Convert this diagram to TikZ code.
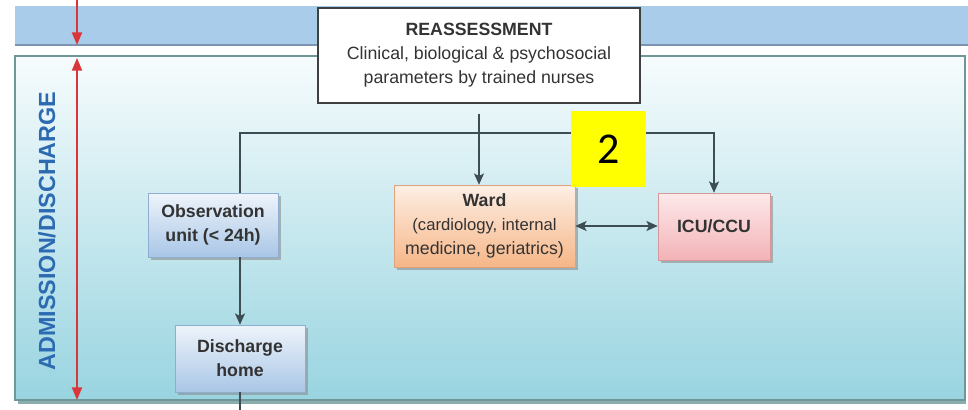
\documentclass[tikz,border=0pt]{standalone}
\usepackage{fontspec}
\setmainfont{Liberation Sans}
\newfontfamily\calibri{Carlito}
\usepackage{xcolor}
\usepackage{tikz}
\usetikzlibrary{arrows.meta, positioning, shadows}

\definecolor{bandblue}{HTML}{A9CCEA}
\definecolor{bandedge}{HTML}{7D93B2}
\definecolor{paneltop}{HTML}{F7FCFD}
\definecolor{panelbot}{HTML}{98D4E0}
\definecolor{paneledge}{HTML}{6E9898}
\definecolor{redline}{HTML}{D8363A}
\definecolor{labelblue}{HTML}{2C6BB2}
\definecolor{linkgray}{HTML}{3D4D53}
\definecolor{txtgray}{HTML}{333333}
\definecolor{obstop}{HTML}{EEF4FB}
\definecolor{obsbot}{HTML}{A9C6E6}
\definecolor{obsedge}{HTML}{8EAECF}
\definecolor{wardtop}{HTML}{FDEFE5}
\definecolor{wardbot}{HTML}{F6B687}
\definecolor{wardedge}{HTML}{DFA27A}
\definecolor{icutop}{HTML}{FDE9EA}
\definecolor{icubot}{HTML}{F3B3B7}
\definecolor{icuedge}{HTML}{D7989C}
\definecolor{tagyellow}{HTML}{FFFF00}

\begin{document}
\begin{tikzpicture}[
    x=0.75pt, y=-0.75pt,
    boxfont/.style={font=\fontsize{13.3}{18}\selectfont},
    unit/.style={rectangle, align=center, boxfont, text=txtgray,
                 drop shadow={shadow xshift=2pt, shadow yshift=-2pt, fill=black!45, opacity=0.6}},
    obsbox/.style={unit, top color=obstop, bottom color=obsbot, draw=obsedge,
                   minimum width=97.5pt, minimum height=48pt},
    wardbox/.style={unit, top color=wardtop, bottom color=wardbot, draw=wardedge,
                    minimum width=135.75pt, minimum height=61.5pt},
    icubox/.style={unit, top color=icutop, bottom color=icubot, draw=icuedge,
                   minimum width=84pt, minimum height=50.25pt},
    link/.style={-{Stealth[length=8.5pt, width=7.5pt, inset=2pt]}, line width=1pt, draw=linkgray},
    redarrow/.style={-{Triangle[length=9.5pt, width=7.5pt]}, line width=1.5pt, draw=redline}
]
\useasboundingbox (0,0) rectangle (968,410);

% background band and panel
\fill[bandblue] (15,6) rectangle (968,45);
\draw[bandedge, line width=2.2pt] (15,45) -- (968,45);
\fill[paneledge!80] (18,399) rectangle (966,404);
\shade[top color=paneltop, bottom color=panelbot, draw=paneledge, line width=0.8pt]
    (15,56) rectangle (965,400);

% red timeline
\coordinate (rtop) at (77,0);
\coordinate (rband) at (77,45);
\coordinate (rstart) at (77,58);
\coordinate (rend) at (77,400);
\draw[redarrow] (rtop) -- (rband);
\draw[redarrow, {Triangle[length=9.5pt, width=7.5pt]}-{Triangle[length=9.5pt, width=7.5pt]}] (rstart) -- (rend);
\node[rotate=90, text=labelblue, font=\bfseries\fontsize{17.5}{20}\selectfont] (phase) at (47,231) {ADMISSION/DISCHARGE};

% boxes
\node[rectangle, draw=black!75, line width=1pt, fill=white, align=center, boxfont, text=txtgray,
      minimum width=241.5pt, minimum height=71.25pt] (reassess) at (479,55.5)
    {\textbf{REASSESSMENT}\\Clinical, biological \& psychosocial\\parameters by trained nurses};
\node[wardbox] (ward) at (484.5,226)
    {\textbf{Ward}\\\fontsize{12.5}{16}\selectfont (cardiology, internal\\medicine, geriatrics)};
\node[icubox] (icu) at (714,226.5) {\textbf{ICU/CCU}};
\node[obsbox] (obs) at (213,225) {\textbf{Observation}\\\textbf{unit (< 24h)}};
\node[obsbox, minimum height=50.25pt] (dis) at (240,358.5) {\textbf{Discharge}\\\textbf{home}};

% connectors
\coordinate (branch) at (0,133);
\coordinate (exit) at (0,412);
\draw[link] ([yshift=-7.5pt]reassess.south) -- (reassess.south |- ward.north);
\draw[link] (dis.north |- obs.north) -- (dis.north |- branch) -| (icu.north);
\draw[link] (dis.north |- obs.south) -- (dis.north);
\draw[link, {Stealth[length=8.5pt, width=7.5pt, inset=2pt]}-{Stealth[length=8.5pt, width=7.5pt, inset=2pt]}] (ward.east) -- (icu.west |- ward.east);
\draw[link, -] (dis.south) -- (dis.south |- exit);

% tag
\node[fill=tagyellow, minimum width=56.25pt, minimum height=57pt, inner sep=0pt,
      font=\calibri\fontsize{33}{33}\selectfont] (tag) at (608.5,149) {2};
\end{tikzpicture}
\end{document}
